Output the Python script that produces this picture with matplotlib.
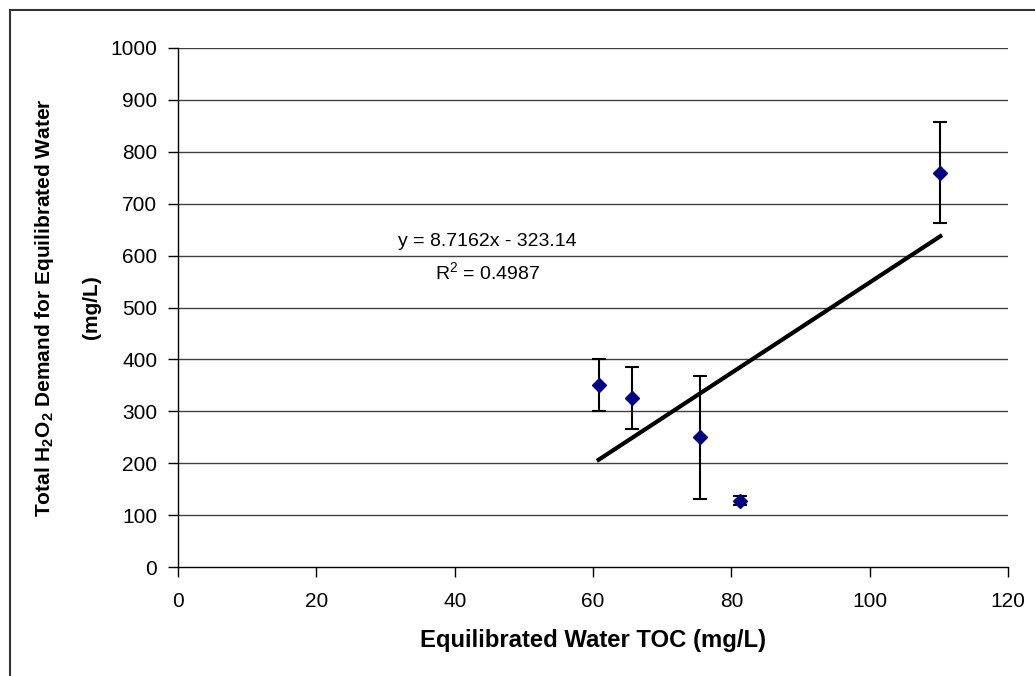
import matplotlib.pyplot as plt
from matplotlib.patches import Rectangle

plt.rcParams['font.family'] = ['Liberation Sans', 'DejaVu Sans']
plt.rcParams['mathtext.fontset'] = 'custom'
plt.rcParams['mathtext.rm'] = 'Liberation Sans'
plt.rcParams['mathtext.bf'] = 'Liberation Sans:bold'

# data
toc = [60.8, 65.6, 75.5, 81.3, 110.2]
demand = [350, 326, 250, 128, 760]
demand_err = [50, 60, 118, 9, 98]

slope = 8.7162
intercept = -323.14
r2 = 0.4987

fig = plt.figure(figsize=(10.35, 6.76), dpi=100)
ax = fig.add_axes([0.172, 0.161, 0.802, 0.768])

# outer chart border
fig.patches.append(Rectangle((9.5 / 1035, -0.01), 1.02, 1 - 10 / 676 + 0.01,
                             transform=fig.transFigure, fill=False,
                             edgecolor='#333333', linewidth=1.5, zorder=0))

for yv in range(100, 1001, 100):
    ax.axhline(yv, color='#404040', linewidth=1, zorder=1)

ax.errorbar(toc, demand, yerr=demand_err, fmt='D', color='#000080',
            markersize=7, ecolor='black', elinewidth=1.5, capsize=5,
            capthick=1.5, zorder=3)

x0, x1 = min(toc), max(toc)
ax.plot([x0, x1], [slope * x0 + intercept, slope * x1 + intercept],
        color='black', linewidth=3, zorder=2)

ax.text(44.7, 628, 'y = 8.7162x - 323.14', ha='center', va='center', fontsize=14)
ax.text(44.7, 568, '$\\mathregular{R^2}$ = %.4f' % r2, ha='center', va='center', fontsize=14)

ax.set_xlim(0, 120)
ax.set_ylim(0, 1000)
ax.set_xticks(range(0, 121, 20))
ax.set_yticks(range(0, 1001, 100))
ax.tick_params(direction='out', length=7, width=1, labelsize=15)
ax.tick_params(axis='x', pad=11)
ax.tick_params(axis='y', pad=8)

for s in ['top', 'right']:
    ax.spines[s].set_visible(False)
for s in ['left', 'bottom']:
    ax.spines[s].set_color('black')
    ax.spines[s].set_linewidth(1)

ax.set_xlabel('Equilibrated Water TOC (mg/L)', fontsize=17.2, fontweight='bold', labelpad=13)
ax.set_ylabel('Total H$_\\mathbf{2}$O$_\\mathbf{2}$ Demand for Equilibrated Water\n(mg/L)',
              fontsize=15, fontweight='bold', labelpad=7, linespacing=2.7)

fig.savefig('out.png', dpi=100)
